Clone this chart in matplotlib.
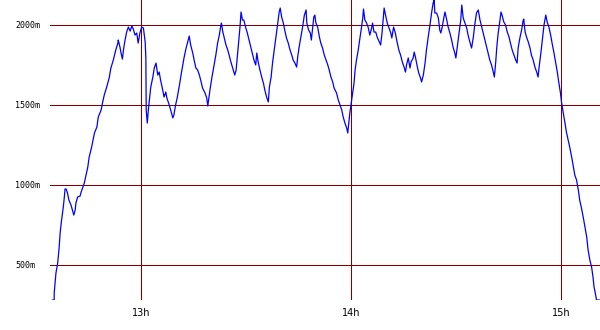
import matplotlib
matplotlib.use("Agg")
import matplotlib.pyplot as plt

# time in minutes after 12:00, altitude in metres
minutes = [34.6, 35.1, 35.1, 35.6, 36.1, 36.5, 36.8, 37.1, 37.4, 37.7, 38.0, 38.2, 38.5, 38.9, 39.3,
           39.9, 40.4, 40.7, 41.1, 41.3, 41.8, 42.5, 42.8, 43.3, 43.7, 44.2, 44.7, 45.1, 45.8, 46.6,
           47.3, 47.7, 48.5, 48.9, 49.4, 50.1, 50.8, 51.3, 52.0, 52.7, 53.3, 53.4, 53.9, 54.2, 54.6,
           54.9, 55.3, 55.8, 56.3, 56.8, 57.3, 57.7, 58.2, 58.7, 59.1, 59.6, 60.1, 60.6, 61.1, 61.3,
           61.4, 61.7, 62.0, 62.3, 62.7, 63.3, 63.7, 64.2, 64.7, 65.1, 65.5, 66.0, 66.5, 67.0, 67.3,
           67.8, 68.4, 69.0, 69.3, 69.8, 70.3, 70.9, 71.5, 72.2, 72.8, 73.4, 73.7, 74.1, 74.7, 75.1,
           75.6, 76.1, 76.6, 77.1, 77.5, 78.2, 78.7, 79.0, 79.3, 79.7, 80.2, 80.8, 81.3, 81.8, 82.3,
           82.7, 82.9, 83.3, 83.7, 84.2, 84.7, 85.1, 85.6, 86.1, 86.7, 87.1, 87.4, 87.8, 88.2, 88.5,
           88.9, 89.3, 89.8, 90.3, 90.8, 91.3, 91.7, 92.2, 92.7, 93.0, 93.4, 93.9, 94.4, 94.9, 95.3,
           95.8, 96.3, 96.6, 97.1, 97.5, 98.0, 98.5, 99.0, 99.4, 99.7, 100.1, 100.6, 101.1, 101.5,
           102.0, 102.5, 103.0, 103.4, 103.9, 104.4, 104.7, 105.1, 105.6, 106.1, 106.6, 107.1, 107.3,
           107.8, 108.3, 108.6, 109.0, 109.3, 109.6, 109.9, 110.4, 110.9, 111.3, 111.8, 112.3, 112.8,
           113.3, 113.7, 114.2, 114.7, 115.1, 115.8, 116.3, 116.8, 117.3, 117.7, 118.2, 118.7, 119.0,
           119.3, 119.6, 120.0, 120.4, 120.8, 121.1, 121.5, 122.0, 122.5, 122.9, 123.3, 123.5, 123.9,
           124.4, 124.9, 125.3, 125.7, 126.1, 126.5, 127.0, 127.4, 128.0, 128.4, 128.8, 129.1, 129.4,
           129.8, 130.3, 130.8, 131.3, 131.6, 132.1, 132.6, 133.1, 133.6, 134.1, 134.6, 135.1, 135.5,
           135.8, 136.3, 136.8, 137.1, 137.7, 138.0, 138.4, 138.9, 139.3, 139.8, 140.1, 140.6, 141.1,
           141.5, 142.0, 142.5, 143.0, 143.4, 143.7, 143.9, 144.4, 144.9, 145.3, 145.6, 146.0, 146.5,
           146.8, 147.3, 147.7, 148.2, 148.7, 149.1, 149.6, 149.9, 150.3, 150.8, 151.3, 151.6, 152.0,
           152.5, 153.0, 153.4, 153.9, 154.4, 154.9, 155.3, 155.8, 156.3, 156.8, 157.3, 157.7, 158.2,
           158.7, 159.1, 159.6, 160.1, 160.6, 160.9, 161.3, 161.6, 162.0, 162.4, 162.8, 163.1, 163.6,
           164.1, 164.6, 165.1, 165.5, 166.0, 166.5, 167.0, 167.4, 167.7, 168.2, 168.7, 169.1, 169.3,
           169.7, 170.1, 170.6, 171.1, 171.5, 172.0, 172.5, 173.0, 173.4, 173.7, 174.2, 174.7, 175.1,
           175.6, 176.0, 176.5, 177.0, 177.4, 177.9, 178.4, 178.9, 179.3, 179.8, 180.1, 180.6, 181.1,
           181.5, 182.0, 182.5, 183.0, 183.4, 183.9, 184.4, 184.9, 185.3, 185.8, 186.3, 186.8, 187.3,
           187.7, 188.2, 188.7, 189.1, 189.4, 189.7, 190.1, 191.1]
altitude = [281, 281, 325, 450, 512, 606, 700, 762, 812, 862, 925, 975, 975, 950, 906,
            875, 837, 812, 844, 887, 925, 931, 956, 987, 1012, 1062, 1112, 1175, 1237, 1325,
            1362, 1425, 1468, 1512, 1562, 1612, 1668, 1731, 1781, 1844, 1887, 1906, 1862, 1825, 1787,
            1844, 1900, 1956, 1987, 1962, 1994, 1975, 1937, 1950, 1887, 1950, 1987, 1981, 1894, 1794,
            1468, 1387, 1468, 1531, 1612, 1675, 1731, 1762, 1687, 1706, 1656, 1606, 1550, 1581, 1544,
            1512, 1468, 1419, 1437, 1500, 1550, 1625, 1706, 1794, 1856, 1906, 1931, 1875, 1825, 1781,
            1731, 1719, 1687, 1644, 1606, 1575, 1544, 1494, 1544, 1606, 1675, 1750, 1812, 1887, 1937,
            1994, 2012, 1956, 1919, 1875, 1844, 1812, 1769, 1731, 1687, 1719, 1794, 1887, 1987, 2081,
            2031, 2031, 1987, 1950, 1906, 1862, 1825, 1781, 1750, 1825, 1769, 1719, 1675, 1637, 1594,
            1550, 1519, 1612, 1675, 1762, 1844, 1925, 2012, 2081, 2106, 2050, 2012, 1956, 1919,
            1887, 1844, 1812, 1781, 1762, 1737, 1800, 1862, 1925, 1987, 2062, 2094, 2012,
            1969, 1950, 1906, 1987, 2050, 2062, 2012, 1987, 1925, 1887, 1856, 1812, 1781,
            1750, 1719, 1675, 1644, 1606, 1575, 1531, 1500, 1468, 1425, 1387, 1356, 1325,
            1387, 1450, 1512, 1575, 1637, 1719, 1781, 1844, 1919, 1981, 2044, 2100, 2031,
            2012, 1981, 1937, 1969, 2012, 1956, 1956, 1925, 1894, 1875, 1950, 2031, 2106,
            2062, 2012, 1981, 1950, 1919, 1987, 1950, 1894, 1844, 1812, 1769, 1737, 1706,
            1750, 1794, 1731, 1769, 1794, 1831, 1794, 1737, 1700, 1669, 1644, 1687, 1762,
            1844, 1925, 2000, 2081, 2137, 2156, 2075, 2075, 2044, 1969, 1950, 1987, 2050,
            2081, 2031, 1987, 1950, 1906, 1862, 1825, 1794, 1862, 1950, 2031, 2125, 2044,
            2012, 1981, 1937, 1894, 1856, 1925, 2000, 2075, 2094, 2031, 1987, 1950, 1906,
            1862, 1825, 1781, 1750, 1706, 1675, 1769, 1862, 1950, 2012, 2081, 2062, 2019,
            2000, 1956, 1925, 1887, 1844, 1812, 1781, 1762, 1856, 1919, 1969, 2025, 2037,
            1956, 1925, 1894, 1856, 1812, 1781, 1737, 1706, 1675, 1737, 1825, 1919, 2000,
            2062, 2019, 1987, 1937, 1887, 1831, 1769, 1706, 1644, 1575, 1519, 1450, 1387,
            1331, 1281, 1231, 1175, 1125, 1062, 1031, 969, 906, 856, 800, 737, 675,
            594, 531, 487, 425, 362, 331, 281, 281]

x_ticks = [60, 120, 180]
x_labels = ["13h", "14h", "15h"]
y_ticks = [500, 1000, 1500, 2000]
y_labels = ["500m", "1000m", "1500m", "2000m"]

fig = plt.figure(figsize=(6, 3.3), dpi=100)
ax = fig.add_axes([50 / 600, 30 / 330, 550 / 600, 300 / 330])

ax.plot(minutes, altitude, color="#0000ff", linewidth=0.9, zorder=3)

ax.set_xlim(33.9, 191.1)
ax.set_ylim(281.25, 2156.25)
ax.set_xticks(x_ticks)
ax.set_xticklabels(x_labels, fontsize=7, family="DejaVu Sans")
ax.set_yticks(y_ticks)
ax.set_yticklabels(y_labels, fontsize=6, family="DejaVu Sans Mono")
for lab in ax.get_yticklabels():
    lab.set_horizontalalignment("left")
ax.tick_params(axis="y", length=0, pad=25)
ax.tick_params(axis="x", length=0, pad=6)
ax.grid(True, color="#800000", linewidth=0.75)
for s in ax.spines.values():
    s.set_visible(False)

fig.savefig("out.png", dpi=100)
